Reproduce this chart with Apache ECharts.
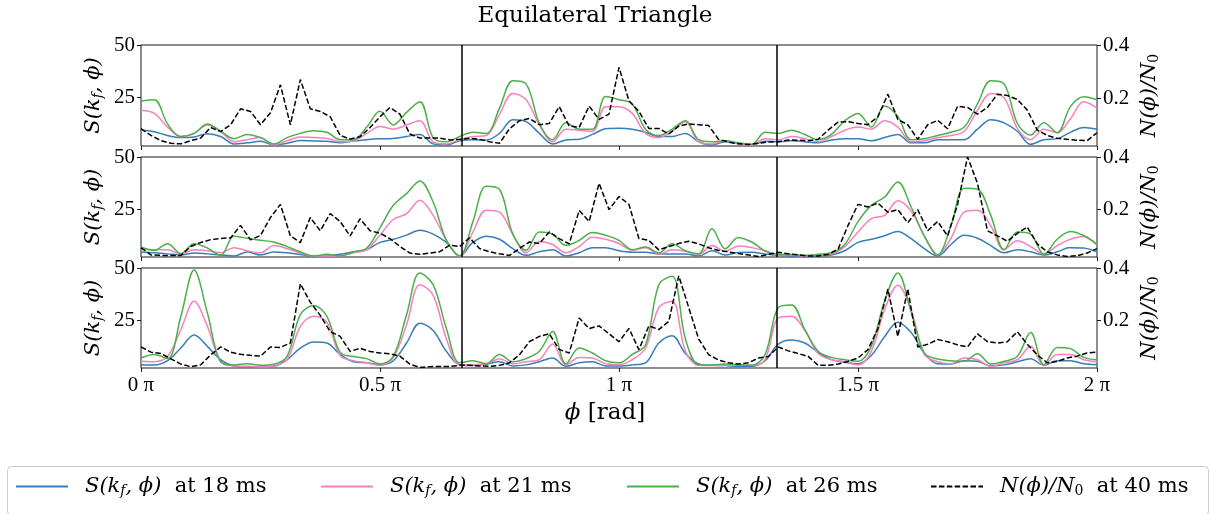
<!DOCTYPE html>
<html><head><meta charset="utf-8">
<script src="https://cdn.jsdelivr.net/npm/echarts@6/dist/echarts.min.js"></script>
<style>html,body{margin:0;padding:0;background:#fff}#c{width:1211px;height:514px}</style>
</head><body><div id="c"></div><script>
// sample positions (units of pi)
const PHI_S = Array.from({length: 73}, (_, k) => k / 36);
const PHI_N = Array.from({length: 97}, (_, j) => j / 48);
const X_TICKS = [0, 0.5, 1, 1.5, 2];
const S_TICKS = [25, 50];
const N_TICKS = [0.2, 0.4];
const DIVIDERS = [2 / 3, 4 / 3];

// Panel 1
const s18P1 = [9.6,8.8,7,6,6.3,7.8,6.5,3,3.5,4.2,2.5,3.3,4.6,4.4,4.2,3.5,4.4,5,5.4,5.6,6.5,7.5,3,2.5,4.5,
 5,4.8,8,14.5,13.6,8,3,4.9,5.2,7.5,10.2,10.4,10,8.5,6.5,6.5,8,4,2.5,4,3.2,2.5,4.3,4,
 4.5,4,3.5,4.8,5.5,5.5,4.5,6,7.5,3.5,3.5,5,5,5,10,14.5,13,9,2.8,5,5.5,8.5,10.8,10];
const s21P1 = [19,17.5,11,6.5,8,12,9,4,5,6,2.5,4.5,6.3,6,5.6,4,4.5,8,11.3,10,12,14,4,3,5,
 6.5,7,17,27,24,12,4,10,9.5,9,20.7,20.7,17.5,8,6,9,13.5,4,3,4.5,3,2.5,5.5,5,
 6.5,5.5,4,6.5,9.5,11,10,14,11,4,4.5,6,7,9,19,27,25,10.4,5,10,8.3,15,23,20];
const s26P1 = [23.4,24,12.5,6.5,8,12.5,9,5.5,7.5,6,3,6,8,9.3,8.5,5,5,11,18.5,12,18,23,6,4,6.5,
 8.5,8,20,33,31.5,12.8,5,13,10,10,25.5,24,22,10,7,10,14,5,4,4.5,3.5,2.8,8.5,8,
 9.5,7.5,5,7.5,14,17.5,11,21,16,5,5.5,7,8.5,11,22,33,31.5,12.8,7.2,13,8.3,20.7,25.4,24];
const n40P1 = [0.085,0.06,0.04,0.03,0.028,0.04,0.05,0.09,0.074,0.1,0.16,0.15,0.1,0.145,0.25,0.1,0.27,0.16,0.15,0.13,0.06,0.046,0.055,0.09,0.13,0.165,0.14,0.065,0.05,0.05,0.05,0.043,
 0.045,0.049,0.045,0.036,0.03,0.085,0.115,0.124,0.1,0.105,0.168,0.095,0.09,0.17,0.12,0.14,0.316,0.19,0.15,0.086,0.086,0.065,0.095,0.103,0.1,0.097,0.045,0.035,0.028,0.026,0.03,0.035,
 0.036,0.043,0.042,0.04,0.045,0.08,0.11,0.112,0.105,0.1,0.13,0.215,0.12,0.1,0.045,0.1,0.117,0.085,0.17,0.165,0.14,0.165,0.215,0.21,0.195,0.155,0.08,0.06,0.049,0.045,0.042,0.04,0.07];

// Panel 2
const s18P2 = [4.4,4,3.5,3,3.9,3.5,3,2.5,4.4,3,4.4,4,3.2,2.3,2.5,3.3,4.5,5.5,9,10.5,12.5,14.8,13,9,2.5,
 9,12,10.5,6,2.8,4.5,5.5,2.5,4,6.5,6.5,5,4.3,4.3,3.5,3.5,3.5,2.5,5,3,4.2,4.3,3.5,2.8,
 2.5,2.3,2.6,3,5,9,10.5,12.2,14.3,10.8,6,2.5,8,12.4,11,7.5,4,5.5,4.5,3,4.5,6.5,6.3,4.5];
const s21P2 = [6,5.5,5.5,3.5,5.5,5,4,6.5,5,4,7.5,6,4,2.5,2.5,2.5,4,5.5,12.5,20,22.8,29.3,22,10,2.3,
 14,24.5,23.5,13,4,9.5,8,4,7,11.5,10.5,8.5,5.2,6.5,3.3,5.5,4.8,3.3,7.5,4.8,7.3,6.5,5,3,
 3,2.5,3,3.5,7,14,20.4,22,29,24,12,3,11,23.5,24.4,17,5.5,9.8,7,3.5,7.5,10.5,11.8,7.8];
const s26P2 = [6.8,5.2,8.4,3.6,8.4,6.3,2.8,12,11,10,9.2,7,4.5,2.5,3.3,2.5,4.4,6.3,16,26.8,32.4,38.5,28.4,10,2.5,
 19,36,34.5,13,5.2,14,13,7.6,10,13.8,12.4,10,5.5,6.8,3.9,8.4,5,3.6,15.6,6,11.3,9.2,4.9,3.3,
 3.2,2.8,3.3,4,8,19,26.8,30.8,38,26,12,3,17,35,34.5,22,5.5,14,13,3.3,10.5,14.3,12.3,8];
const n40P2 = [0.055,0.028,0.026,0.026,0.026,0.06,0.075,0.086,0.09,0.093,0.14,0.085,0.102,0.17,0.22,0.1,0.075,0.17,0.12,0.185,0.155,0.1,0.165,0.12,0.11,0.09,0.06,0.035,0.03,0.035,0.04,0.065,
 0.06,0.093,0.052,0.04,0.032,0.026,0.052,0.077,0.071,0.115,0.09,0.07,0.197,0.155,0.3,0.2,0.25,0.22,0.09,0.083,0.047,0.06,0.071,0.08,0.07,0.055,0.045,0.039,0.033,0.028,0.022,0.03,
 0.038,0.032,0.028,0.024,0.024,0.03,0.05,0.14,0.22,0.21,0.225,0.19,0.2,0.15,0.2,0.12,0.155,0.1,0.22,0.4,0.3,0.12,0.1,0.08,0.11,0.134,0.07,0.04,0.028,0.022,0.025,0.035,0.052];

// Panel 3
const s18P3 = [3.6,3.4,5.5,11.6,17.8,12.4,6,3,2.6,2.5,2.8,6,11.5,14.5,14,8.5,5,4.5,3.5,5.5,14,23.5,20,10,3.6,
 3.2,3.8,5,3,3.5,5,6.8,2.8,4.5,5,3,3,3.5,4.5,14,17.5,9,4,3.3,3.2,2.8,2.8,5.5,13.5,
 15.5,14,9.5,6,4.8,4,8,17,24,19,9,4,3.9,5.5,5.2,3,3.5,5,6.5,3.3,5.5,5.5,4,3.6];
const s21P3 = [5.2,5,7.6,20.4,34,22,5,3,2.8,2.5,3,6,22,26.8,24,8,5.5,4.5,3.3,7,22.8,42,37,16,3.5,
 3.6,4,6.5,4,5,6,13.5,3.5,7,6.8,4,3.6,6,11.6,31,34,10,3.3,3.2,3.3,3.3,3.3,6,26,
 26.8,20,9,6,5,3.5,10,30,41.7,30,8.4,5,4,6.8,6,2.8,4.5,6,12.4,3.3,8.5,8.5,6,5];
const s26P3 = [6.8,8.5,6.5,26.8,49,28.4,5,3.5,4,3.3,3.8,7.6,27.6,32,26.8,9.5,7.5,6.5,3.9,7.6,27.6,47.6,42,21,4.5,
 5.5,4,8.5,5,6.5,10,19.5,4,11.6,9.2,5.5,4.5,8.5,13.2,42,46,16,3.6,3.5,3.9,3.6,3.3,8.4,31,
 32.3,20.4,10,7.1,6,5.2,12.4,34,47.6,29,9.2,6.3,5.5,5.2,8.9,3.9,5.2,7.6,19,3.6,11.9,11.3,7.1,6];
const n40P3 = [0.1,0.08,0.075,0.055,0.035,0.025,0.032,0.07,0.1,0.08,0.072,0.068,0.065,0.1,0.098,0.115,0.34,0.27,0.22,0.158,0.14,0.083,0.095,0.083,0.077,0.074,0.065,0.035,0.022,0.025,0.026,0.026,
 0.03,0.03,0.028,0.026,0.03,0.04,0.07,0.12,0.14,0.15,0.09,0.077,0.21,0.17,0.18,0.15,0.12,0.17,0.09,0.18,0.166,0.197,0.37,0.25,0.13,0.071,0.05,0.04,0.035,0.04,0.058,0.064,
 0.1,0.085,0.075,0.064,0.03,0.03,0.035,0.045,0.058,0.09,0.17,0.32,0.14,0.32,0.1,0.11,0.128,0.12,0.108,0.1,0.15,0.12,0.115,0.12,0.158,0.11,0.07,0.04,0.045,0.058,0.065,0.077,0.08];

const PANELS = [
  {s18: s18P1, s21: s21P1, s26: s26P1, n40: n40P1},
  {s18: s18P2, s21: s21P2, s26: s26P2, n40: n40P2},
  {s18: s18P3, s21: s21P3, s26: s26P3, n40: n40P3}
];

const TICK_FONT = "'Liberation Serif', 'DejaVu Serif', serif";
const FONT = "'DejaVu Serif', 'Liberation Serif', serif";
const COLORS = {s18: '#377eb8', s21: '#f781bf', s26: '#4daf4a', n40: '#000000'};
const NAMES = {s18: 'S18', s21: 'S21', s26: 'S26', n40: 'N40'};
const LABELS = {
  S18: '{i|S(k}{s|f}{i|, ϕ)}{r|  at 18 ms}',
  S21: '{i|S(k}{s|f}{i|, ϕ)}{r|  at 21 ms}',
  S26: '{i|S(k}{s|f}{i|, ϕ)}{r|  at 26 ms}',
  N40: '{i|N(ϕ)/N}{s0|0}{r|  at 40 ms}'
};
const RICH = {
  i: {fontFamily: FONT, fontStyle: 'italic', fontSize: 21, color: '#000'},
  r: {fontFamily: FONT, fontSize: 21, color: '#000'},
  s: {fontFamily: FONT, fontStyle: 'italic', fontSize: 14, color: '#000', padding: [9, 0, 0, 0]},
  s0: {fontFamily: FONT, fontSize: 14, color: '#000', padding: [9, 0, 0, 0]},
  xi: {fontFamily: FONT, fontStyle: 'italic', fontSize: 23, color: '#000'},
  xr: {fontFamily: FONT, fontSize: 23, color: '#000'}
};

const TOPS = [45, 157, 268];
const HEIGHTS = [101, 100, 100];

const grid = [], xAxis = [], yAxis = [], series = [];
PANELS.forEach((p, i) => {
  grid.push({left: 141, width: 956, top: TOPS[i], height: HEIGHTS[i], show: true,
    borderColor: '#1a1a1a', borderWidth: 1, backgroundColor: 'transparent'});
  const last = i === PANELS.length - 1;
  xAxis.push({
    type: 'value', gridIndex: i, min: X_TICKS[0], max: X_TICKS[X_TICKS.length - 1], interval: 0.5,
    axisLine: {show: false}, splitLine: {show: false},
    axisTick: {show: true, length: 4, lineStyle: {color: '#1a1a1a'}},
    axisLabel: {show: last, formatter: v => v + ' π', fontFamily: TICK_FONT, fontSize: 21, color: '#000', margin: 7},
    name: last ? '{xi|ϕ}{xr| [rad]}' : '', nameLocation: 'middle', nameGap: 34,
    nameTextStyle: {rich: RICH, padding: [0, 28, 0, 0]}
  });
  yAxis.push({
    type: 'value', gridIndex: i, position: 'left', min: 2, max: 50,
    axisLine: {show: false}, splitLine: {show: false},
    axisTick: {show: true, length: 4, customValues: S_TICKS, lineStyle: {color: '#1a1a1a'}},
    axisLabel: {customValues: S_TICKS, fontFamily: TICK_FONT, fontSize: 21, color: '#000', margin: 6},
    name: '{i|S(k}{s|f}{i|, ϕ)}', nameLocation: 'middle', nameRotate: 90, nameGap: 36,
    nameMoveOverlap: false,
    nameTextStyle: {rich: RICH}
  });
  yAxis.push({
    type: 'value', gridIndex: i, position: 'right', min: 0.02, max: 0.4,
    axisLine: {show: false}, splitLine: {show: false},
    axisTick: {show: true, length: 4, customValues: N_TICKS, lineStyle: {color: '#1a1a1a'}},
    axisLabel: {customValues: N_TICKS, formatter: v => v.toFixed(1), fontFamily: TICK_FONT, fontSize: 21, color: '#000', margin: 6},
    name: '{i|N(ϕ)/N}{s0|0}', nameLocation: 'middle', nameRotate: 90, nameGap: 41,
    nameMoveOverlap: false,
    nameTextStyle: {rich: RICH}
  });
  ['s18', 's21', 's26'].forEach((key, z) => {
    series.push({
      type: 'line', name: NAMES[key], xAxisIndex: i, yAxisIndex: 2 * i,
      data: PHI_S.map((x, k) => [x, p[key][k]]),
      symbol: 'none', smooth: 0.35, z: 2 + z,
      lineStyle: {width: 1.5, color: COLORS[key]}, itemStyle: {color: COLORS[key]}
    });
  });
  series.push({
    type: 'line', name: NAMES.n40, xAxisIndex: i, yAxisIndex: 2 * i + 1,
    data: PHI_N.map((x, j) => [x, p.n40[j]]),
    symbol: 'none', smooth: false, z: 6,
    lineStyle: {width: 1.5, color: '#000', type: [5.5, 2.4]}, itemStyle: {color: '#000'},
    markLine: {
      silent: true, symbol: ['none', 'none'], label: {show: false}, animation: false,
      lineStyle: {color: '#000', width: 1.5, type: 'solid'},
      data: DIVIDERS.map(v => ({xAxis: v}))
    }
  });
});

const LEG_LEFT = [15, 320, 626, 930];
const legend = ['S18', 'S21', 'S26', 'N40'].map((n, idx) => ({
  data: [n], left: LEG_LEFT[idx], top: 476, padding: 0,
  itemWidth: 52, itemHeight: 14, itemGap: 0,
  itemStyle: {opacity: 0},
  formatter: name => LABELS[name],
  textStyle: {padding: [0, 0, 0, 12], rich: RICH}
}));

const chart = echarts.init(document.getElementById('c'), null, {renderer: 'canvas'});
chart.setOption({
  animation: false,
  backgroundColor: '#fff',
  title: {text: 'Equilateral Triangle', left: 590, top: 0, textAlign: 'center',
    textStyle: {fontFamily: FONT, fontSize: 23, fontWeight: 'normal', color: '#000'}},
  graphic: [{type: 'rect', left: 5, top: 464, silent: true, z: -10,
    shape: {width: 1201, height: 49, r: 4}, style: {fill: 'none', stroke: '#cccccc', lineWidth: 1}}],
  legend, grid, xAxis, yAxis, series
});
</script></body></html>
